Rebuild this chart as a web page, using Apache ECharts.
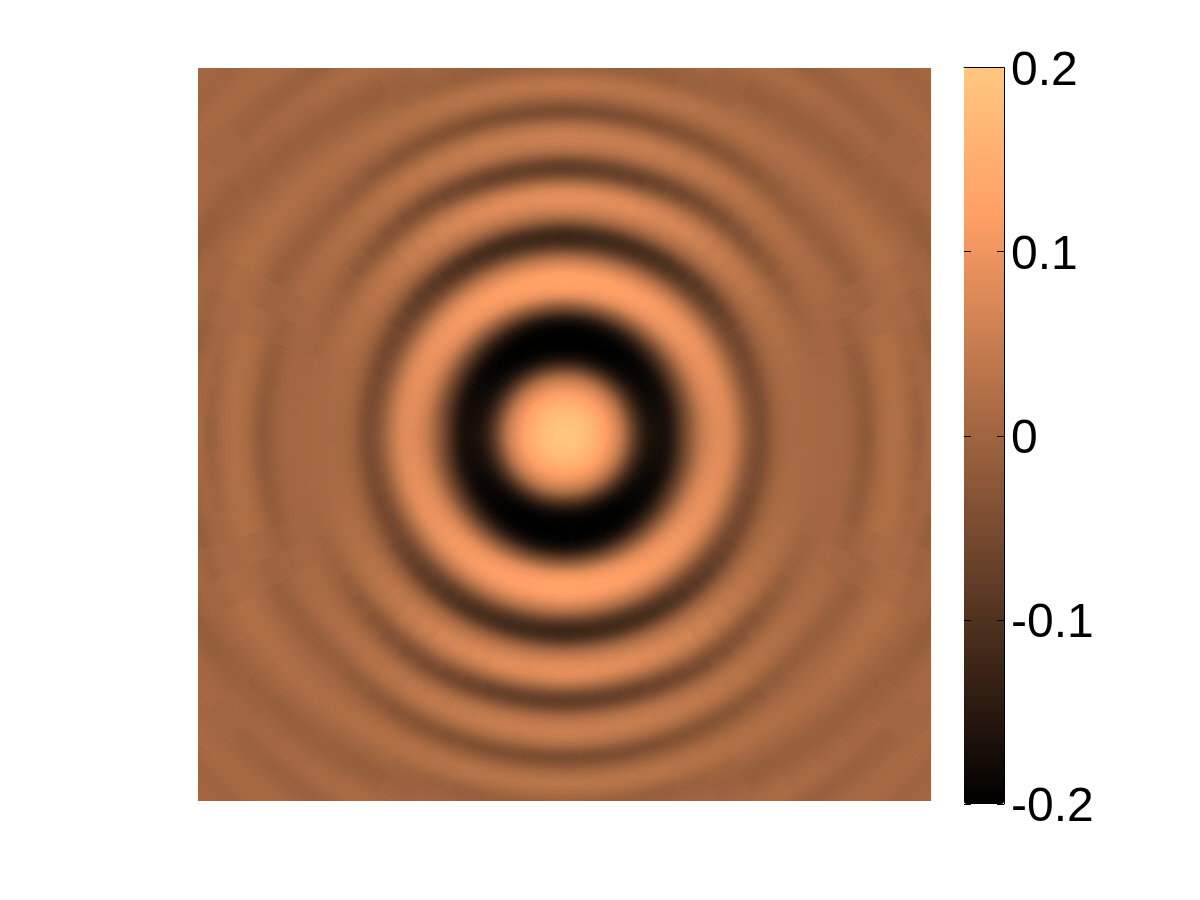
<!DOCTYPE html>
<html>
<head>
<meta charset="utf-8">
<title>rings</title>
<script src="https://cdn.jsdelivr.net/npm/echarts@6/dist/echarts.min.js"></script>
<style>
	html, body { margin: 0; background: #fff; }
	#main { width: 1200px; height: 900px; }
</style>
</head>
<body>
<div id="main"></div>
<script>
// values read along the rings, one list per tilt from the vertical (0 = straight up)
// read every 4 units of radius from 2 to 398, then every 8 units
var tilt0 = [.195,.194,.19,.187,.182,.175,.167,.156,.143,.13,.113,.093,.072,.045,.012,-.032,-.08,-.118,-.15,-.175,-.19,-.197,-.2,-.2,-.2,-.198,
	-.195,-.185,-.165,-.135,-.09,-.05,-.005,.04,.08,.105,.118,.125,.127,.125,.115,.098,.072,.045,.012,-.03,-.07,-.1,-.12,-.125,-.115,-.09,-.052,-.012,.02,.046,.066,.08,.088,.088,
	.08,.06,.03,-.005,-.04,-.066,-.08,-.073,-.052,-.02,.01,.03,.045,.053,.055,.048,.035,.018,-.008,-.032,-.046,-.045,-.03,-.012,.007,.022,.033,.035,.029,.018,.006,-.002,-.004];
var tilt15 = [.195,.194,.19,.187,.182,.175,.167,.156,.144,.13,.114,.095,.073,.047,.015,-.028,-.074,-.113,-.146,-.172,-.188,-.196,-.199,-.2,-.2,-.197,
	-.192,-.18,-.16,-.13,-.087,-.047,-.005,.038,.076,.1,.113,.12,.122,.12,.11,.094,.07,.043,.012,-.028,-.065,-.094,-.112,-.118,-.108,-.084,-.048,-.012,.018,.042,.06,.073,.08,.08,
	.072,.054,.028,-.003,-.036,-.06,-.07,-.065,-.046,-.018,.008,.03,.04,.046,.048,.042,.03,.015,-.007,-.028,-.04,-.039,-.026,-.009,.007,.019,.027,.03,.027,.018,.007,-.004,-.011,-.012,-.008,-.002,.004,.009,.012,.012];
var tilt30 = [.195,.194,.191,.187,.182,.175,.167,.157,.145,.131,.115,.096,.075,.05,.018,-.022,-.066,-.106,-.14,-.168,-.185,-.194,-.198,-.2,-.199,-.195,
	-.186,-.172,-.15,-.12,-.08,-.042,-.004,.034,.068,.092,.104,.112,.115,.113,.103,.088,.065,.04,.01,-.026,-.058,-.084,-.1,-.105,-.096,-.074,-.042,-.01,.014,.032,.047,.058,.064,.064,
	.057,.045,.027,.006,-.018,-.038,-.049,-.05,-.037,-.018,.002,.018,.029,.034,.035,.031,.022,.008,-.008,-.022,-.03,-.029,-.02,-.008,.003,.012,.018,.021,.022,.02,.015,.01,.005,0,-.005,-.009,-.012,-.012,-.01,-.006,
	.002,.01,.015,.008,-.006,-.01,-.002,.008];
var tilt45 = [.195,.194,.191,.188,.183,.176,.168,.158,.146,.133,.117,.098,.078,.053,.022,-.016,-.058,-.098,-.13,-.158,-.176,-.187,-.192,-.194,-.194,-.189,
	-.178,-.16,-.135,-.108,-.073,-.038,-.002,.03,.06,.082,.095,.103,.105,.103,.095,.08,.06,.036,.008,-.022,-.048,-.067,-.078,-.081,-.075,-.058,-.034,-.01,.008,.022,.032,.038,.04,.038,
	.032,.024,.012,-.004,-.02,-.029,-.03,-.024,-.013,-.002,.008,.015,.02,.02,.02,.016,.009,.001,-.007,-.012,-.012,-.009,-.004,.001,.005,.008,.011,.014,.016,.018,.018,.016,.012,.008,.004,0,-.004,-.008,-.011,-.012,
	-.006,-.001,.006,.004,-.004,-.006,-.002,.005,.009,.009,.004,-.001,-.001,.003,.008,.01];
var tilt60 = [.195,.194,.191,.188,.183,.176,.168,.158,.146,.133,.117,.099,.08,.056,.026,-.012,-.052,-.09,-.122,-.148,-.166,-.178,-.184,-.186,-.186,-.18,
	-.168,-.15,-.122,-.095,-.064,-.034,0,.028,.054,.072,.084,.092,.095,.093,.086,.072,.055,.032,.008,-.016,-.036,-.05,-.056,-.056,-.048,-.034,-.018,-.004,.006,.014,.019,.022,.023,.022,
	.02,.015,.009,.003,-.002,-.005,-.004,-.001,.003,.006,.009,.011,.012,.012,.012,.01,.007,.003,-.002,-.007,-.011,-.012,-.009,-.004,.001,.006,.01,.014,.017,.019,.02,.02,.018,.015,.012,.009,.006,.003,0,-.004,
	-.01,-.014,-.008,.004,.012,.015,.01,.004];
var tilt75 = [.195,.194,.191,.188,.183,.176,.168,.158,.147,.134,.118,.1,.081,.058,.028,-.01,-.05,-.085,-.115,-.14,-.158,-.17,-.175,-.177,-.177,-.172,
	-.16,-.14,-.112,-.085,-.056,-.03,.002,.026,.05,.065,.076,.083,.087,.085,.08,.068,.05,.03,.007,-.014,-.032,-.044,-.05,-.048,-.04,-.026,-.012,-.002,.005,.01,.012,.013,.013,.013,
	.011,.01,.009,.008,.007,.005,.004,.004,.004,.004,.003,.001,-.004,-.01,-.015,-.016,-.012,-.005,.003,.01,.015,.018,.02,.02,.019,.016,.012,.008,.005,.004,.004,.001,-.005,-.011,-.012,-.008,-.002,.004,.007,.009];
var tilt90 = [.195,.194,.191,.188,.183,.176,.168,.158,.147,.134,.118,.1,.082,.06,.03,-.008,-.045,-.08,-.112,-.135,-.152,-.163,-.168,-.17,-.17,-.165,
	-.152,-.13,-.1,-.072,-.045,-.02,.006,.028,.048,.06,.07,.077,.081,.081,.076,.066,.05,.03,.008,-.012,-.028,-.04,-.045,-.045,-.036,-.022,-.01,-.001,.004,.007,.009,.01,.01,.01,
	.01,.009,.009,.008,.008,.007,.007,.007,.006,.005,.002,-.002,-.008,-.016,-.02,-.022,-.017,-.008,.004,.012,.017,.02,.021,.02,.016,.01,.002,-.007,-.011,-.006,.005,.011,.012];
var tiltLists = [tilt0, tilt15, tilt30, tilt45, tilt60, tilt75, tilt90];

var tickValues = [-0.2, -0.1, 0, 0.1, 0.2];
var tickLabels = ['-0.2', '-0.1', '0', '0.1', '0.2'];
// copper map
var copper = ['#000000', '#402819', '#805033', '#bf784c', '#ff9f66', '#ffc77f'];

(function() {
	var myChart = echarts.init(document.querySelector('#main'));
	var maxRadius = 528;

	function readRadius(i) {
		return i < 100 ? 2 + i * 4 : 404 + (i - 100) * 8;
	}

	// a cell runs from the radius where it was read to the next one, drawn 3 times
	// (turned by -5, 0, +5 degrees, fading) so the 15 degree slices do not show as hard edges
	var layers = [[0, 1], [-5, 1 / 2], [5, 1 / 3]];
	var cells = [];
	layers.forEach(function(layer) {
		for (var k = 0; k < 24; k++) {
			var angle = k * 15;
			var folded = angle % 180;
			var list = tiltLists[Math.min(folded, 180 - folded) / 15];
			list.forEach(function(v, i) {
				var last = i === list.length - 1;
				var r0 = i === 0 ? 0 : readRadius(i);
				var r1 = last ? readRadius(i) + 8 : readRadius(i + 1);
				cells.push([r0, angle + layer[0], v, r1, layer[1], last ? 0 : 1, readRadius(i)]);
			});
		}
	});

	function renderCell(params, api) {
		var cx = params.coordSys.cx;
		var cy = params.coordSys.cy;
		var r0 = api.value(0), r1 = api.value(3), angle = api.value(1);
		var opacity = api.value(4);
		var a = api.coord([r1, angle - 7.5]);
		var b = api.coord([r1, angle + 7.5]);
		var c = api.coord([r0, angle]);
		var m = api.coord([api.value(6), angle]);
		var outer = Math.hypot(a[0] - cx, a[1] - cy);
		var full = params.coordSys.r;
		var start = Math.atan2(a[1] - cy, a[0] - cx);
		var end = Math.atan2(b[1] - cy, b[0] - cx);
		if (end < start) {
			end += Math.PI * 2;
		}
		var color = api.visual('color');
		var next = api.value(5) ? api.visual('color', params.dataIndexInside + 1) : color;
		var fill = new echarts.graphic.RadialGradient(cx, cy, full, [
			{ offset: Math.hypot(m[0] - cx, m[1] - cy) / full, color: color },
			{ offset: Math.min(outer / full, 1), color: next }
		], true);
		var style = { fill: fill, opacity: opacity };
		if (opacity === 1) {
			style.stroke = fill;
			style.lineWidth = 1;
		}
		return {
			type: 'sector',
			shape: {
				cx: cx,
				cy: cy,
				r0: Math.hypot(c[0] - cx, c[1] - cy),
				r: outer,
				startAngle: start,
				endAngle: end
			},
			style: style,
			// the picture is the square, rings run out of it at the sides
			clipPath: {
				type: 'rect',
				shape: { x: 198, y: 68, width: 733, height: 733 }
			},
			silent: true
		};
	}

	var option = {
		backgroundColor: '#fff',
		animation: false,
		polar: {
			center: [564.5, 434.5],
			radius: maxRadius
		},
		angleAxis: { type: 'value', min: 0, max: 360, startAngle: 90, show: false },
		radiusAxis: { type: 'value', min: 0, max: maxRadius, show: false },
		// first grid holds the bar frame and ticks, second one only the labels, they sit a bit lower
		grid: [
			{ left: 964, top: 67.5, width: 40, height: 736.5 },
			{ left: 964, top: 71.5, width: 40, height: 736.5 }
		],
		xAxis: [
			{
				type: 'value',
				gridIndex: 0,
				position: 'top',
				min: 0,
				max: 1,
				z: 5,
				axisLine: { show: true, onZero: false, lineStyle: { color: '#000', width: 1 } },
				axisTick: { show: false },
				axisLabel: { show: false },
				splitLine: { show: false }
			},
			{ type: 'value', gridIndex: 1, min: 0, max: 1, show: false }
		],
		yAxis: [
			{
				type: 'value',
				gridIndex: 0,
				position: 'left',
				min: -0.2,
				max: 0.2,
				interval: 0.1,
				z: 5,
				axisLine: { show: false },
				axisTick: { show: true, inside: true, length: 7, lineStyle: { color: '#000' } },
				axisLabel: { show: false },
				splitLine: { show: false }
			},
			{
				type: 'value',
				gridIndex: 0,
				position: 'right',
				min: -0.2,
				max: 0.2,
				interval: 0.1,
				z: 5,
				axisLine: { show: true, onZero: false, lineStyle: { color: '#000', width: 1 } },
				axisTick: { show: true, inside: true, length: 7, lineStyle: { color: '#000' } },
				axisLabel: { show: false },
				splitLine: { show: false }
			},
			{
				type: 'value',
				gridIndex: 1,
				position: 'right',
				min: -0.2,
				max: 0.2,
				interval: 0.1,
				axisLine: { show: false },
				axisTick: { show: false },
				axisLabel: {
					show: true,
					margin: 7,
					color: '#000',
					fontFamily: 'Liberation Sans',
					fontSize: 48,
					formatter: function(v) {
						for (var i = 0; i < tickValues.length; i++) {
							if (Math.abs(tickValues[i] - v) < 1e-6) {
								return tickLabels[i];
							}
						}
						return '';
					}
				},
				splitLine: { show: false }
			}
		],
		visualMap: {
			type: 'continuous',
			seriesIndex: 0,
			dimension: 2,
			min: -0.2,
			max: 0.2,
			left: 964,
			top: 68,
			itemWidth: 40,
			itemHeight: 736,
			padding: 0,
			calculable: false,
			hoverLink: false,
			text: ['', ''],
			inRange: { color: copper }
		},
		series: [
			{
				type: 'custom',
				coordinateSystem: 'polar',
				encode: { radius: 0, angle: 1 },
				renderItem: renderCell,
				silent: true,
				progressive: 0,
				data: cells
			}
		]
	};
	myChart.setOption(option);
})();
</script>
</body>
</html>
